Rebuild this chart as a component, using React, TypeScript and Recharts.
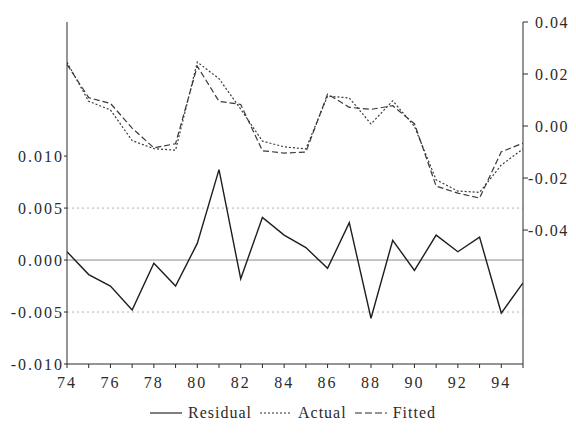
import React from 'react';
import {
  LineChart,
  Line,
  XAxis,
  YAxis,
  ReferenceLine,
  Legend,
} from 'recharts';

// Annual observations, 1974–1995
const years = [
  1974, 1975, 1976, 1977, 1978, 1979, 1980, 1981, 1982, 1983, 1984,
  1985, 1986, 1987, 1988, 1989, 1990, 1991, 1992, 1993, 1994, 1995,
];

// Residual = Actual - Fitted (left axis)
const residual = [
  0.0008, -0.0014, -0.0025, -0.0048, -0.0003, -0.0025, 0.0016, 0.0087,
  -0.0018, 0.0041, 0.0024, 0.0012, -0.0008, 0.0036, -0.0056, 0.0019,
  -0.001, 0.0024, 0.0008, 0.0022, -0.0051, -0.0022,
];

// Actual and fitted series (right axis)
const actual = [
  0.0245, 0.0095, 0.0062, -0.0056, -0.0087, -0.0093, 0.0246, 0.0182,
  0.0065, -0.0058, -0.008, -0.0088, 0.0115, 0.0108, 0.0008, 0.0097,
  -0.0001, -0.0207, -0.025, -0.0255, -0.015, -0.0088,
];
const fitted = [
  0.0237, 0.0109, 0.0087, -0.0008, -0.0084, -0.0068, 0.023, 0.0095,
  0.0083, -0.0095, -0.0104, -0.01, 0.0123, 0.0072, 0.0064, 0.0078,
  0.0009, -0.0231, -0.0258, -0.0277, -0.0099, -0.0066,
];

const xTicks = years;
const leftTicks = [-0.01, -0.005, 0, 0.005, 0.01];
const rightTicks = [-0.04, -0.02, 0, 0.02, 0.04];
const seBand = [-0.005, 0.005];

const data = years.map((year, i) => ({
  year,
  residual: residual[i],
  actual: actual[i],
  fitted: fitted[i],
}));

const FONT = '"Liberation Serif", "DejaVu Serif", serif';
const INK = '#2b2b2b';
const tickStyle = {
  fontFamily: FONT,
  fontSize: 16,
  fill: INK,
  letterSpacing: 2,
};

// Right-axis labels: digits start at the same x, a minus sign hangs to the left
function RightTick(props: any) {
  const { x, y, payload } = props;
  const v = payload.value as number;
  const text = v.toFixed(2);
  const shift = v < 0 ? 7 : 0;
  return (
    <text
      x={x - shift}
      y={y}
      dy="0.355em"
      textAnchor="start"
      fontFamily={FONT}
      fontSize={16}
      fill={INK}
      letterSpacing={1.5}
    >
      {text}
    </text>
  );
}

const legendItems = [
  { label: 'Residual', dash: undefined as string | undefined },
  { label: 'Actual', dash: '2 2' },
  { label: 'Fitted', dash: '7 3' },
];

function LegendContent() {
  return (
    <div
      style={{
        display: 'flex',
        justifyContent: 'center',
        alignItems: 'center',
        gap: 8,
        paddingLeft: 10,
        paddingTop: 10,
        fontFamily: FONT,
        fontSize: 16,
        letterSpacing: 1,
        color: INK,
      }}
    >
      {legendItems.map((item) => (
        <span key={item.label} style={{ display: 'flex', alignItems: 'center', gap: 6 }}>
          <svg width={32} height={8}>
            <line
              x1={0}
              y1={4}
              x2={32}
              y2={4}
              stroke={INK}
              strokeWidth={1.2}
              strokeDasharray={item.dash}
            />
          </svg>
          <span>{item.label}</span>
        </span>
      ))}
    </div>
  );
}

export default function App() {
  return (
    <div style={{ position: 'absolute', left: 0, top: 0, background: '#fff' }}>
      <LineChart
        width={576}
        height={440}
        data={data}
        margin={{ top: 22, right: 0, bottom: 0, left: 0 }}
      >
        <XAxis
          xAxisId="bottom"
          dataKey="year"
          type="number"
          domain={[1974, 1995]}
          ticks={xTicks}
          interval={0}
          tickFormatter={(y: number) => (y % 2 === 0 ? String(y % 100) : '')}
          tick={tickStyle}
          tickSize={4}
          tickMargin={9}
          height={30}
          stroke={INK}
          allowDataOverflow
        />
        <XAxis
          xAxisId="top"
          dataKey="year"
          type="number"
          domain={[1974, 1995]}
          orientation="top"
          tick={false}
          tickLine={false}
          height={0}
          stroke={INK}
        />
        <YAxis
          yAxisId="left"
          orientation="left"
          domain={[-0.01, 0.0229]}
          ticks={leftTicks}
          interval={0}
          tickFormatter={(v: number) => v.toFixed(3)}
          tick={tickStyle}
          tickSize={3}
          tickMargin={0}
          width={67}
          stroke={INK}
          allowDataOverflow
        />
        <YAxis
          yAxisId="right"
          orientation="right"
          domain={[-0.0915, 0.04]}
          ticks={rightTicks}
          interval={0}
          tick={<RightTick />}
          tickSize={5}
          tickMargin={7}
          width={53}
          stroke={INK}
          allowDataOverflow
        />
        <ReferenceLine yAxisId="left" xAxisId="bottom" y={0} stroke="#8a8a8a" strokeWidth={1} />
        {seBand.map((v) => (
          <ReferenceLine
            key={v}
            yAxisId="left"
            xAxisId="bottom"
            y={v}
            stroke="#b0b0b0"
            strokeWidth={1}
            strokeDasharray="2 3"
          />
        ))}
        <Line
          xAxisId="bottom"
          yAxisId="right"
          dataKey="actual"
          type="linear"
          stroke="#3a3a3a"
          strokeWidth={1.2}
          strokeDasharray="2 2"
          dot={false}
          isAnimationActive={false}
        />
        <Line
          xAxisId="bottom"
          yAxisId="right"
          dataKey="fitted"
          type="linear"
          stroke="#3a3a3a"
          strokeWidth={1.2}
          strokeDasharray="6 3"
          dot={false}
          isAnimationActive={false}
        />
        <Line
          xAxisId="bottom"
          yAxisId="left"
          dataKey="residual"
          type="linear"
          stroke="#1e1e1e"
          strokeWidth={1.4}
          dot={false}
          isAnimationActive={false}
        />
        <Legend verticalAlign="bottom" height={46} content={<LegendContent />} />
      </LineChart>
    </div>
  );
}
